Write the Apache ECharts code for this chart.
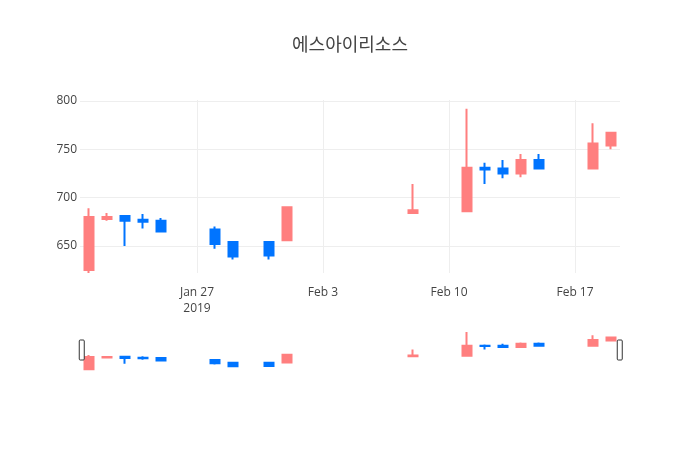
<!DOCTYPE html>
<html>
<head>
<meta charset="utf-8">
<script src="https://cdn.jsdelivr.net/npm/echarts@6/dist/echarts.min.js"></script>
<style>
  html, body { margin: 0; padding: 0; background: #fff; }
  #chart { width: 700px; height: 450px; }
</style>
</head>
<body>
<div id="chart"></div>
<script>
// 일별 시세 (2019)
const dates = ["2019-01-21", "2019-01-22", "2019-01-23", "2019-01-24", "2019-01-25",
  "2019-01-28", "2019-01-29", "2019-01-31", "2019-02-01", "2019-02-08",
  "2019-02-11", "2019-02-12", "2019-02-13", "2019-02-14", "2019-02-15",
  "2019-02-18", "2019-02-19"];
const opens  = [625, 678, 681, 677, 676, 667, 654, 654, 656, 684, 686, 731, 730, 725, 739, 730, 754];
const closes = [680, 680, 676, 675, 665, 652, 639, 640, 690, 687, 731, 729, 725, 739, 730, 756, 767];
const lows   = [622, 676, 650, 668, 665, 647, 636, 636, 656, 684, 686, 714, 720, 721, 729, 730, 750];
const highs  = [689, 684, 681, 683, 679, 670, 655, 655, 690, 714, 792, 736, 739, 745, 745, 777, 767];

const xTicks = ["2019-01-27", "2019-02-03", "2019-02-10", "2019-02-17"];
const yTicks = [650, 700, 750, 800];

const UP = "#ff7f7f";
const DOWN = "#0074ff";
const FONT = "'Open Sans', 'Noto Sans CJK KR', sans-serif";
const MONTHS = ["Jan", "Feb", "Mar", "Apr", "May", "Jun", "Jul", "Aug", "Sep", "Oct", "Nov", "Dec"];

function ts(d) {
  const [y, m, day] = d.split("-").map(Number);
  return Date.UTC(y, m - 1, day);
}

const DAY = 86400000;
const xMin = ts(dates[0]) - DAY / 2;
const xMax = ts(dates[dates.length - 1]) + DAY / 2;
const yMin = 622;
const yMax = 801;

const candles = dates.map((d, i) => [ts(d), opens[i], closes[i], lows[i], highs[i]]);
const xTickTs = xTicks.map(ts);

function xLabel(v) {
  const d = new Date(v);
  const s = MONTHS[d.getUTCMonth()] + " " + d.getUTCDate();
  return v === xTickTs[0] ? s + "\n" + d.getUTCFullYear() : s;
}

const candleStyle = {
  color: UP, color0: DOWN,
  borderColor: UP, borderColor0: DOWN,
  borderWidth: 2,
};

const chart = echarts.init(document.getElementById("chart"), null, { renderer: "canvas" });
chart.setOption({
  animation: false,
  backgroundColor: "#fff",
  title: {
    text: "에스아이리소스",
    left: "center",
    top: 32,
    textStyle: { fontFamily: FONT, fontSize: 18, fontWeight: "normal", color: "#444" },
  },
  grid: [
    { left: 80, right: 80, top: 100, height: 173 },
    { left: 80, right: 80, top: 330, height: 40 },
  ],
  xAxis: [
    {
      type: "value", gridIndex: 0, min: xMin, max: xMax, scale: true,
      axisLine: { show: false },
      axisTick: { show: false, customValues: xTickTs },
      axisLabel: {
        customValues: xTickTs, formatter: xLabel,
        color: "#444", fontFamily: FONT, fontSize: 12, margin: 12, lineHeight: 16,
      },
      splitLine: { show: true, lineStyle: { color: "#eee", width: 1 } },
    },
    {
      type: "value", gridIndex: 1, min: xMin, max: xMax, scale: true, show: false,
    },
  ],
  yAxis: [
    {
      type: "value", gridIndex: 0, min: yMin, max: yMax, scale: true,
      axisLine: { show: false },
      axisTick: { show: false, customValues: yTicks },
      axisLabel: { customValues: yTicks, color: "#444", fontFamily: FONT, fontSize: 12, margin: 3 },
      splitLine: { show: true, lineStyle: { color: "#eee", width: 1 } },
    },
    {
      type: "value", gridIndex: 1, min: yMin, max: yMax, scale: true, show: false,
    },
  ],
  dataZoom: [{
    type: "slider", xAxisIndex: 1, filterMode: "none",
    start: 0, end: 100,
    left: 80, right: 80, top: 340, height: 20,
    backgroundColor: "rgba(0,0,0,0)",
    borderColor: "rgba(0,0,0,0)",
    fillerColor: "rgba(0,0,0,0)",
    showDataShadow: false,
    showDetail: false,
    brushSelect: false,
    moveHandleSize: 0,
    handleIcon: "path://M1,0 H4 Q5,0 5,1 V19 Q5,20 4,20 H1 Q0,20 0,19 V1 Q0,0 1,0 Z",
    handleSize: "100%",
    handleStyle: { color: "#fff", borderColor: "#333", borderWidth: 1 },
    emphasis: { handleStyle: { color: "#fff", borderColor: "#333" } },
  }],
  series: [
    {
      type: "candlestick", xAxisIndex: 0, yAxisIndex: 0,
      barWidth: 9, data: candles, itemStyle: candleStyle,
    },
    {
      type: "candlestick", xAxisIndex: 1, yAxisIndex: 1,
      barWidth: 9, data: candles, itemStyle: candleStyle,
      silent: true,
    },
  ],
});
</script>
</body>
</html>
